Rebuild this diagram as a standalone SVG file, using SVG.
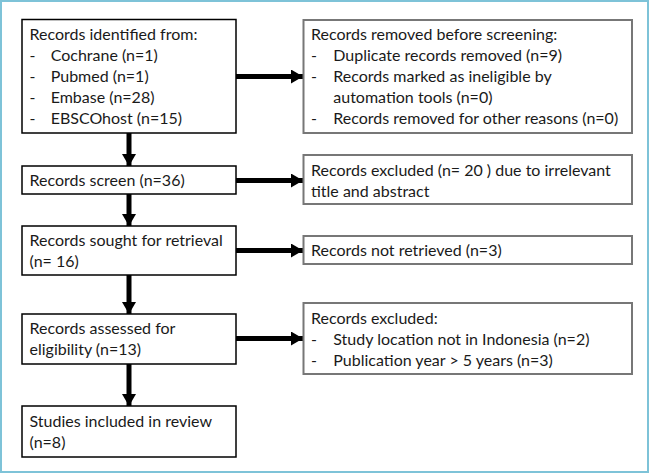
<svg xmlns="http://www.w3.org/2000/svg" width="650" height="474" viewBox="0 0 650 474">
<defs>
<style>
text{font-family:Lato,"Liberation Sans",sans-serif;font-size:16px;fill:#1a1a1a}
.l{fill:#fff;stroke:#000;stroke-width:1.5}
.r{fill:#fff;stroke:#777;stroke-width:2}
.c{stroke:#000;stroke-width:5;fill:none}
</style>
<marker id="ah" viewBox="0 0 12 14" refX="12" refY="7" markerWidth="12" markerHeight="14" markerUnits="userSpaceOnUse" orient="auto"><path d="M0,0L12,7L0,14Z" fill="#000"/></marker>
</defs>
<rect x="1" y="1" width="647" height="471" fill="#fff" stroke="#7ec3d8" stroke-width="2"/>
<g id="connectors">
<path class="c" d="M236,76.5H303" marker-end="url(#ah)"/>
<path class="c" d="M236,180.5H303" marker-end="url(#ah)"/>
<path class="c" d="M236,250.5H303" marker-end="url(#ah)"/>
<path class="c" d="M236,338.5H303" marker-end="url(#ah)"/>
<path class="c" d="M129,133V166" marker-end="url(#ah)"/>
<path class="c" d="M129,194V226" marker-end="url(#ah)"/>
<path class="c" d="M129,275V314" marker-end="url(#ah)"/>
<path class="c" d="M129,364V406" marker-end="url(#ah)"/>
</g>
<g id="identified">
<rect class="l" x="22" y="19.5" width="214" height="113.5"/>
<text x="29.5" y="39.5">Records identified from:</text>
<text x="29.5" y="60.5">-</text><text x="50.7" y="60.5">Cochrane (n=1)</text>
<text x="29.5" y="81.5">-</text><text x="50.7" y="81.5">Pubmed (n=1)</text>
<text x="29.5" y="102.5">-</text><text x="50.7" y="102.5">Embase (n=28)</text>
<text x="29.5" y="123.5">-</text><text x="50.7" y="123.5">EBSCOhost (n=15)</text>
</g>
<g id="removed">
<rect class="r" x="303.5" y="20" width="328.5" height="113"/>
<text x="311" y="39.5">Records removed before screening:</text>
<text x="311" y="60.5">-</text><text x="333.3" y="60.5">Duplicate records removed (n=9)</text>
<text x="311" y="81.5">-</text><text x="333.3" y="81.5">Records marked as ineligible by</text>
<text x="333.3" y="102.5">automation tools (n=0)</text>
<text x="311" y="123.5">-</text><text x="333.3" y="123.5">Records removed for other reasons (n=0)</text>
</g>
<g id="screen">
<rect class="l" x="22" y="166" width="214" height="28"/>
<text x="29.5" y="186">Records screen (n=36)</text>
</g>
<g id="excluded1">
<rect class="r" x="303.5" y="155" width="328.5" height="49"/>
<text x="311" y="175.5">Records excluded (n= 20 ) due to irrelevant</text>
<text x="311" y="196.5">title and abstract</text>
</g>
<g id="sought">
<rect class="l" x="22" y="226" width="214" height="49"/>
<text x="29.5" y="245.5">Records sought for retrieval</text>
<text x="29.5" y="266.5">(n= 16)</text>
</g>
<g id="notretrieved">
<rect class="r" x="303.5" y="236" width="328.5" height="28"/>
<text x="311" y="256">Records not retrieved (n=3)</text>
</g>
<g id="assessed">
<rect class="l" x="22" y="314" width="214" height="50"/>
<text x="29.5" y="334">Records assessed for</text>
<text x="29.5" y="355">eligibility (n=13)</text>
</g>
<g id="excluded2">
<rect class="r" x="303.5" y="303" width="328.5" height="71"/>
<text x="311" y="323.5">Records excluded:</text>
<text x="311" y="344.5">-</text><text x="333.3" y="344.5">Study location not in Indonesia (n=2)</text>
<text x="311" y="365.5">-</text><text x="333.3" y="365.5">Publication year &gt; 5 years (n=3)</text>
</g>
<g id="included">
<rect class="l" x="22" y="406" width="214" height="51"/>
<text x="29.5" y="426.5">Studies included in review</text>
<text x="29.5" y="447.5">(n=8)</text>
</g>
</svg>
